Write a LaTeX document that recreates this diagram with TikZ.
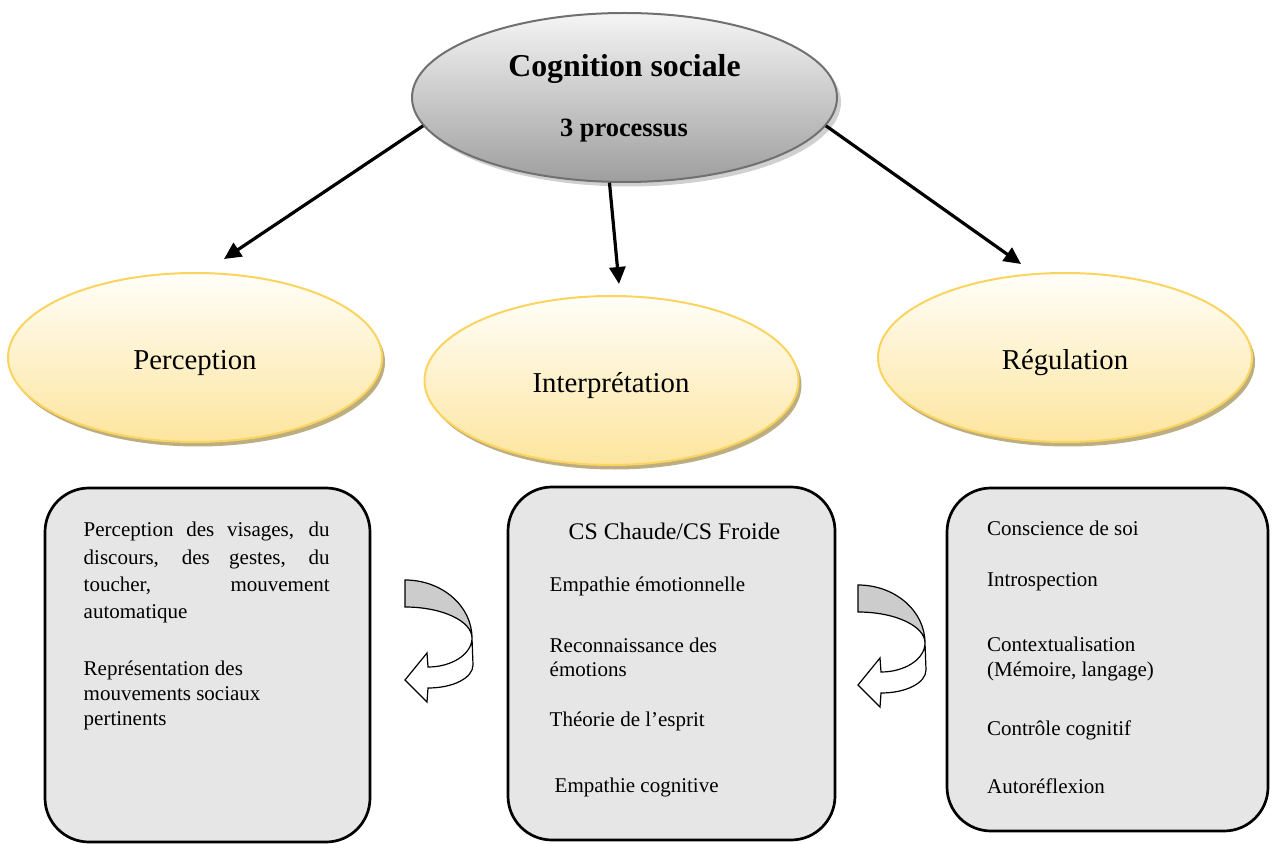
\documentclass[tikz,border=0pt]{standalone}
\usepackage{fontspec}
\setmainfont{Liberation Serif}
\usetikzlibrary{shapes.geometric,arrows.meta}

\definecolor{goldline}{RGB}{250,212,95}
\definecolor{paleyellow}{RGB}{255,254,248}
\definecolor{softyellow}{RGB}{253,229,158}
\definecolor{tanshadow}{RGB}{188,174,128}
\definecolor{boxgray}{RGB}{230,230,230}
\definecolor{topline}{RGB}{112,112,112}
\definecolor{topshadow}{RGB}{196,196,196}

\tikzset{
  turnarrow/.pic={
    % shaded back of the band
    \draw[line width=0.6pt, fill=black!20]
      (0,0) .. controls (37,0) and (67,26) .. (67,58)
      .. controls (67,41) and (37,27) .. (0,27) -- cycle;
    % front of the band ending in the arrow head
    \draw[line width=0.6pt, fill=white, line join=miter]
      (67,58) -- (68,85) .. controls (68,98) and (48,108) .. (23,108)
      -- (22,122) -- (0,100) -- (22,73) -- (23,87)
      .. controls (47,87) and (67,74) .. (67,58) -- cycle;
  }
}

\begin{document}
\begin{tikzpicture}[x=0.5pt,y=-0.5pt,
  topoval/.style={ellipse, inner sep=0pt, minimum width=212.5pt, minimum height=84.5pt},
  stage/.style={ellipse, inner sep=0pt, minimum width=187pt, minimum height=84.5pt},
  stagefill/.style={stage, draw=goldline, line width=1pt, top color=paleyellow, bottom color=softyellow},
  panel/.style={rectangle, rounded corners=22pt, draw=black, line width=1.35pt, fill=boxgray, inner sep=0pt},
  item/.style={anchor=base west, inner sep=0pt, font=\fontsize{10.5}{12.6}\selectfont},
  stagetext/.style={anchor=base, inner sep=0pt, font=\fontsize{14.4}{17}\selectfont},
  conn/.style={line width=1.6pt, -{Triangle[length=8.5pt,width=8pt]}}
]
\useasboundingbox (0,0) rectangle (1273,844);

% central theme
\node[topoval, fill=topshadow, opacity=0.8] (csshadow) at (628.5,102) {};
\node[topoval, draw=topline, line width=1pt, top color=black!4, bottom color=black!38] (cs) at (624.5,97.5) {};
\node[anchor=base, inner sep=0pt, font=\fontsize{15.9}{19}\selectfont\bfseries] (cstitle) at (624.5,77) {Cognition sociale};
\node[anchor=base, inner sep=0pt, font=\fontsize{13.2}{16}\selectfont\bfseries] (cssub) at (624,136.5) {3 processus};

% three processes
\node[stage, fill=tanshadow] (percS) at (198,362) {};
\node[stagefill] (perc) at (195,357.5) {};
\node[stagetext] (percT) at (195,370) {Perception};

\node[stage, fill=tanshadow] (interS) at (614.5,385) {};
\node[stagefill] (inter) at (611.5,380.5) {};
\node[stagetext] (interT) at (611,393) {Interprétation};

\node[stage, fill=tanshadow] (regS) at (1068,362) {};
\node[stagefill] (reg) at (1065,357.5) {};
\node[stagetext] (regT) at (1065,370) {Régulation};

% connectors from the central theme
\coordinate (tipP) at (224,259);
\coordinate (tipI) at (619,284);
\coordinate (tipR) at (1021,264);
\draw[conn] (cs.188.4) -- (tipP);
\draw[conn] (cs.260.3) -- (tipI);
\draw[conn] (cs.352.9) -- (tipR);

% detail panels
\node[panel, minimum width=162.5pt, minimum height=177pt] (boxP) at (207.5,665) {};
\node[panel, minimum width=163.5pt, minimum height=176.5pt] (boxI) at (671.5,663.5) {};
\node[panel, minimum width=160.5pt, minimum height=171.5pt] (boxR) at (1107.5,659.5) {};

% perception items
\node[item] (p1) at (83.3,536.7) {\makebox[123pt][s]{Perception des visages, du}};
\node[item] (p2) at (83.3,564) {\makebox[123pt][s]{discours, des gestes, du}};
\node[item] (p3) at (83.3,591.7) {\makebox[123pt][s]{toucher, mouvement}};
\node[item] (p4) at (83.3,618.5) {automatique};
\node[item] (p5) at (83.3,675) {Représentation des};
\node[item] (p6) at (83.3,700) {mouvements sociaux};
\node[item] (p7) at (83.3,725.6) {pertinents};

% interpretation items
\node[item, font=\fontsize{11.9}{14}\selectfont] (i0) at (568.3,539.3) {CS Chaude/CS Froide};
\node[item] (i1) at (549.3,591.7) {Empathie émotionnelle};
\node[item] (i2) at (549.3,652.7) {Reconnaissance des};
\node[item] (i3) at (549.3,676) {émotions};
\node[item] (i4) at (549.3,726.7) {Théorie de l’esprit};
\node[item] (i5) at (554.3,792.7) {Empathie cognitive};

% regulation items
\node[item] (r1) at (986.7,535) {Conscience de soi};
\node[item] (r2) at (986.7,586) {Introspection};
\node[item] (r3) at (986.7,651.7) {Contextualisation};
\node[item] (r4) at (986.7,676.7) {(Mémoire, langage)};
\node[item] (r5) at (986.7,735) {Contrôle cognitif};
\node[item] (r6) at (986.7,793) {Autoréflexion};

% turning arrows between panels
\pic at (405,580) {turnarrow};
\pic at (858,585) {turnarrow};
\end{tikzpicture}
\end{document}
